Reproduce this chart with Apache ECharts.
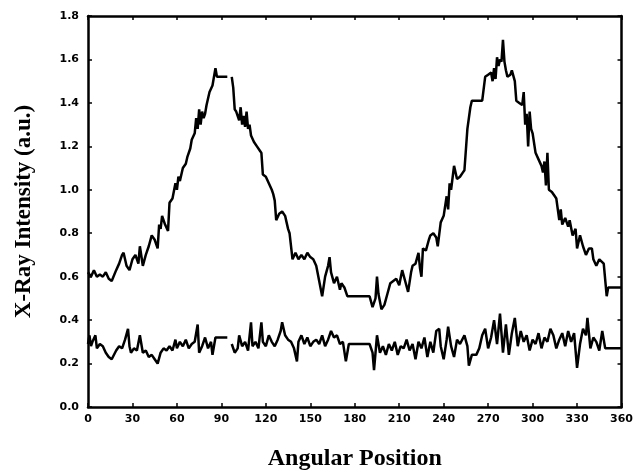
<!DOCTYPE html>
<html>
<head>
<meta charset="utf-8">
<script src="https://cdn.jsdelivr.net/npm/echarts@6/dist/echarts.min.js"></script>
<style>html,body{margin:0;padding:0;background:#fff}#c{width:636px;height:476px}</style>
</head>
<body>
<div id="c"></div>
<script>
// Upper curve (angle, intensity); null marks the break near 95°
const upperAngle = [0,2,4,6,8,10,12,14,16,17,19,21,23,24,26,28,30,32,34,35,37,39,41,43,45,47,48,49,50,52,54,55,57,59,60,61,62,64,66,67,69,70,72,73,74,75,76,77,78,79,80,82,84,86,87,88,90,92,94,95.5,97,98,99,100,102,103,104,105,106,107,108,109,110,112,114,116,117,118,120,122,124,125,126,127,129,131,133,134,135,136,138,140,142,144,146,148,150,152,154,156,158,160,162,163,164,166,168,170,171,173,175,177,180,185,190,192,194,195,196,198,200,202,204,206,208,210,212,214,216,218,219,221,223,224,225,226,228,230,231,233,235,236,238,240,242,243,244,245,247,249,251,253,254,256,258,259,262,264,266,268,270,272,273,274,275,276,277,278,279,280,281,282,283,285,286,288,289,291,293,294,295,296,297,298,299,300,302,304,306,307,308,309,310,311,313,315,316,318,319,320,322,324,325,327,329,330,332,334,336,338,340,341,343,345,346,348,350,351,353,356,360];
const upperValue = [0.62,0.60,0.63,0.60,0.61,0.60,0.62,0.59,0.58,0.58,0.63,0.66,0.70,0.71,0.65,0.63,0.68,0.70,0.66,0.74,0.65,0.70,0.74,0.79,0.77,0.73,0.84,0.82,0.88,0.84,0.81,0.94,0.96,1.03,1.00,1.06,1.04,1.10,1.12,1.15,1.19,1.23,1.26,1.33,1.28,1.37,1.30,1.36,1.33,1.35,1.39,1.45,1.48,1.56,1.52,1.52,1.52,1.52,1.52,null,1.52,1.47,1.37,1.36,1.32,1.38,1.30,1.34,1.29,1.36,1.28,1.30,1.25,1.22,1.20,1.18,1.17,1.07,1.06,1.03,1.00,0.98,0.95,0.86,0.89,0.90,0.88,0.85,0.82,0.80,0.68,0.71,0.68,0.70,0.68,0.71,0.69,0.68,0.65,0.58,0.51,0.60,0.65,0.69,0.62,0.57,0.60,0.54,0.57,0.55,0.51,0.51,0.51,0.51,0.51,0.46,0.50,0.60,0.52,0.45,0.47,0.52,0.57,0.58,0.59,0.56,0.63,0.58,0.53,0.62,0.65,0.66,0.71,0.64,0.60,0.73,0.72,0.77,0.79,0.80,0.78,0.74,0.85,0.88,0.97,0.91,1.03,1.00,1.11,1.05,1.06,1.08,1.09,1.28,1.38,1.41,1.41,1.41,1.41,1.52,1.53,1.54,1.50,1.56,1.51,1.61,1.57,1.60,1.59,1.69,1.59,1.55,1.52,1.53,1.55,1.50,1.41,1.40,1.39,1.45,1.30,1.35,1.20,1.36,1.28,1.26,1.17,1.14,1.11,1.08,1.13,1.02,1.17,1.00,0.99,0.97,0.96,0.86,0.91,0.84,0.87,0.83,0.86,0.79,0.82,0.73,0.79,0.74,0.70,0.73,0.73,0.68,0.65,0.68,0.68,0.66,0.51,0.55,0.55,0.55,0.55];

// Lower curve (angle, intensity)
const lowerAngle = [0,1,2,3,5,6,8,10,12,14,16,17,19,21,23,25,27,28,29,31,33,35,37,39,41,43,45,47,49,51,53,55,57,59,60,62,64,66,68,70,72,74,75,77,79,81,83,84,86,88,90,92,94,95.5,97,99,101,102,104,106,108,110,111,113,115,117,118,120,122,124,126,128,130,131,133,135,137,139,141,142,144,146,148,150,152,154,156,158,160,162,164,166,168,170,172,174,176,178,181,185,190,192,193,195,197,199,201,203,205,207,209,211,213,215,217,219,221,223,225,227,229,231,233,235,237,238,240,242,243,245,247,249,251,254,256,257,259,262,264,266,268,270,272,274,276,278,280,282,284,286,288,290,292,294,296,298,300,302,304,306,308,310,312,314,316,318,320,322,324,326,328,330,332,334,336,337,339,341,343,345,347,349,351,355,360];
const lowerValue = [0.29,0.33,0.28,0.30,0.33,0.27,0.29,0.28,0.25,0.23,0.22,0.22,0.26,0.28,0.27,0.31,0.36,0.28,0.25,0.27,0.26,0.33,0.25,0.26,0.23,0.24,0.22,0.20,0.25,0.27,0.26,0.28,0.26,0.31,0.27,0.30,0.28,0.31,0.27,0.29,0.30,0.38,0.25,0.28,0.32,0.27,0.30,0.24,0.32,0.32,0.32,0.32,0.32,null,0.29,0.25,0.27,0.33,0.28,0.30,0.26,0.39,0.28,0.30,0.27,0.39,0.30,0.28,0.33,0.30,0.28,0.31,0.35,0.39,0.33,0.31,0.30,0.27,0.21,0.30,0.33,0.29,0.32,0.28,0.30,0.31,0.29,0.33,0.28,0.31,0.35,0.32,0.33,0.29,0.30,0.21,0.29,0.29,0.29,0.29,0.29,0.25,0.17,0.33,0.25,0.28,0.24,0.29,0.26,0.30,0.24,0.28,0.27,0.31,0.26,0.29,0.22,0.30,0.27,0.32,0.23,0.30,0.25,0.35,0.36,0.28,0.22,0.31,0.37,0.28,0.23,0.31,0.29,0.33,0.28,0.19,0.24,0.24,0.27,0.33,0.36,0.27,0.32,0.40,0.29,0.43,0.25,0.38,0.24,0.34,0.41,0.28,0.35,0.30,0.33,0.26,0.31,0.29,0.34,0.27,0.32,0.30,0.36,0.33,0.27,0.31,0.34,0.28,0.35,0.30,0.34,0.18,0.29,0.36,0.33,0.41,0.27,0.32,0.30,0.26,0.35,0.27,0.27,0.27,0.27];

const xTicks = [0,30,60,90,120,150,180,210,240,270,300,330,360];
const yTicks = ['0.0','0.2','0.4','0.6','0.8','1.0','1.2','1.4','1.6','1.8'];

const pair = (a, v) => a.map((x, i) => [x, v[i]]);

const chart = echarts.init(document.getElementById('c'), null, {renderer: 'canvas'});
const lineAxis = {show: true, onZero: false, lineStyle: {color: '#000', width: 2.5}};
const tickIn = {show: true, inside: true, length: 4, lineStyle: {color: '#000', width: 1.5}};
const lblFont = {color: '#000', fontFamily: 'DejaVu Sans', fontWeight: 'bold', fontSize: 11};
chart.setOption({
  animation: false,
  backgroundColor: '#fff',
  grid: {left: 88, right: 13, top: 16, bottom: 68, containLabel: false},
  xAxis: [{
    type: 'value', min: 0, max: 360, interval: 30,
    name: 'Angular Position', nameLocation: 'middle', nameGap: 40,
    nameTextStyle: {color: '#000', fontFamily: 'Liberation Serif', fontWeight: 'bold', fontSize: 24},
    axisLine: lineAxis, axisTick: tickIn, splitLine: {show: false},
    axisLabel: Object.assign({margin: 7, formatter: v => xTicks.indexOf(v) >= 0 ? String(v) : ''}, lblFont)
  }, {
    type: 'value', min: 0, max: 360, interval: 30, position: 'top',
    axisLine: lineAxis, axisTick: tickIn, axisLabel: {show: false}, splitLine: {show: false}
  }],
  yAxis: [{
    type: 'value', min: 0, max: 1.8, interval: 0.2,
    name: 'X-Ray Intensity (a.u.)', nameLocation: 'middle', nameGap: 52,
    nameTextStyle: {color: '#000', fontFamily: 'Liberation Serif', fontWeight: 'bold', fontSize: 23},
    axisLine: lineAxis, axisTick: tickIn, splitLine: {show: false},
    axisLabel: Object.assign({margin: 9, formatter: v => yTicks[Math.round(v / 0.2)]}, lblFont)
  }, {
    type: 'value', min: 0, max: 1.8, interval: 0.2, position: 'right',
    axisLine: lineAxis, axisTick: tickIn, axisLabel: {show: false}, splitLine: {show: false}
  }],
  series: [{
    type: 'line', data: pair(upperAngle, upperValue), showSymbol: false, connectNulls: false,
    lineStyle: {color: '#000', width: 2.5}, itemStyle: {color: '#000'}
  }, {
    type: 'line', data: pair(lowerAngle, lowerValue), showSymbol: false, connectNulls: false,
    lineStyle: {color: '#000', width: 2.5}, itemStyle: {color: '#000'}
  }]
});
</script>
</body>
</html>
